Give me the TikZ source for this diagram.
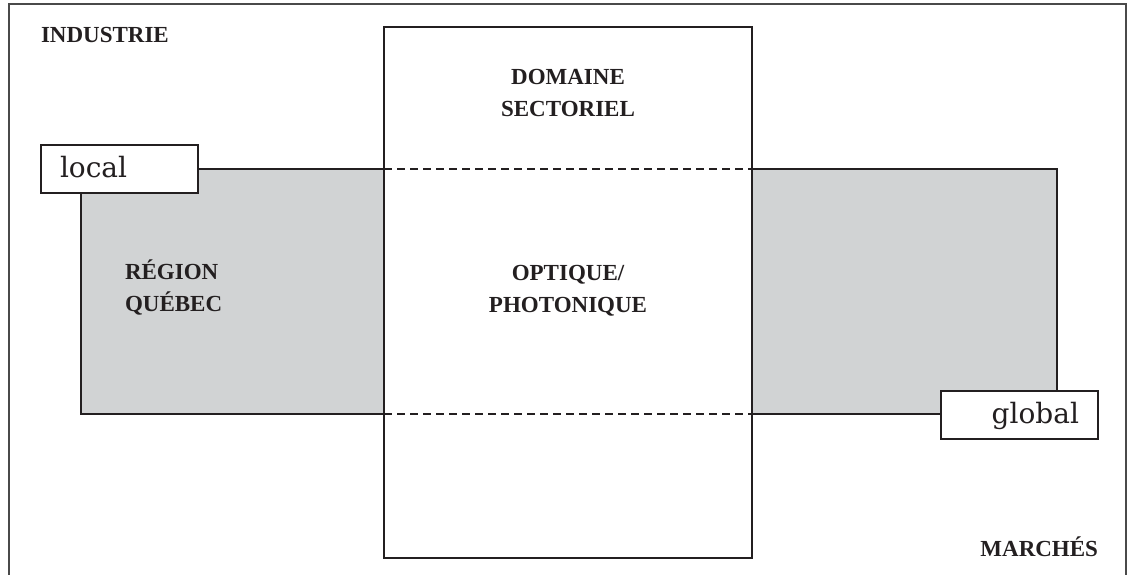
\documentclass[tikz,border=0pt]{standalone}
\usepackage{fontspec}
\setmainfont{Liberation Serif}
\newfontfamily\tagfont{DejaVu Serif}
\definecolor{ink}{HTML}{231F20}
\definecolor{bandgray}{HTML}{D1D3D4}
\definecolor{framegray}{HTML}{4A4A4A}
\begin{document}
\begin{tikzpicture}[x=1pt,y=-1pt,
  every node/.style={inner sep=0pt, outer sep=0pt},
  frameline/.style={draw=framegray, line width=1.4pt},
  boxline/.style={draw=ink, line width=1.3pt},
  bandbox/.style={boxline, fill=bandgray, anchor=north west},
  sectorbox/.style={boxline, fill=white, anchor=north west},
  tagbox/.style={boxline, fill=white, anchor=north west, minimum width=157pt, minimum height=48pt},
  tagtext/.style={font=\tagfont\fontsize{28}{32}\selectfont, text=ink},
  heading/.style={font=\bfseries\fontsize{23}{32}\selectfont, text=ink},
  boundary/.style={draw=ink, line width=1.1pt, dash pattern=on 8pt off 5pt}]
\useasboundingbox (0,0) rectangle (1129,575);

% outer frame, open at the bottom
\coordinate (fbl) at (9,580);
\coordinate (ftl) at (9,4);
\coordinate (ftr) at (1126,4);
\coordinate (fbr) at (1126,580);
\draw[frameline] (fbl) -- (ftl) -- (ftr) -- (fbr);

% regional band and sector column
\node[bandbox, minimum width=976pt, minimum height=245pt] (region) at (81,169) {};
\node[sectorbox, minimum width=368pt, minimum height=531pt] (sector) at (384,27) {};

% band limits seen through the sector column
\draw[boundary] (sector.west |- region.north) -- (sector.east |- region.north);
\draw[boundary] (sector.west |- region.south) -- (sector.east |- region.south);

% scale tags
\node[tagbox] (localbox) at (41,145) {};
\node[tagtext, anchor=base west] (localtxt) at (60,177) {local};
\node[tagbox] (globalbox) at (941,391) {};
\node[tagtext, anchor=base east] (globaltxt) at (1079,423) {global};

% headings
\node[heading, anchor=base west] (industrie) at (41,43) {INDUSTRIE};
\node[heading, anchor=base east] (marches) at (1098,556) {MARCHÉS};
\node[heading, anchor=base] (dom1) at (568,85) {DOMAINE};
\node[heading, anchor=base] (dom2) at (568,117) {SECTORIEL};
\node[heading, anchor=base] (opt1) at (568,280) {OPTIQUE/};
\node[heading, anchor=base] (opt2) at (568,312) {PHOTONIQUE};
\node[heading, anchor=base west] (reg1) at (125,279) {RÉGION};
\node[heading, anchor=base west] (reg2) at (125,311) {QUÉBEC};
\end{tikzpicture}
\end{document}
